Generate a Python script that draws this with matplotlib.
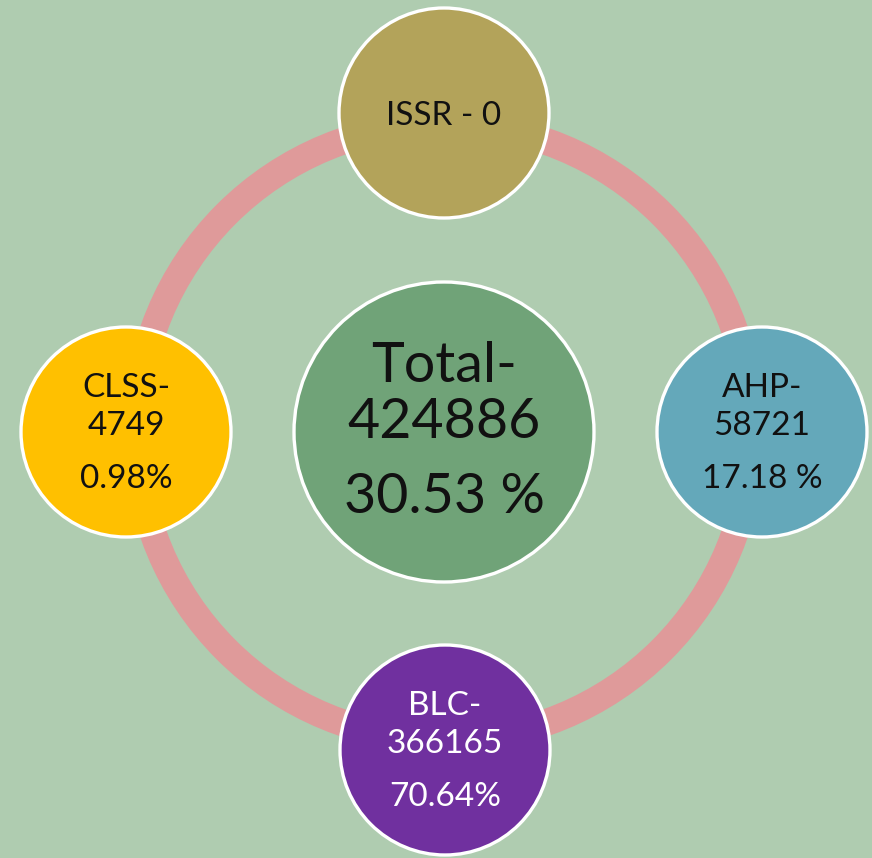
import matplotlib
matplotlib.use("Agg")
import matplotlib.pyplot as plt
from matplotlib.patches import Circle

# ---- data ----
names = ["ISSR", "AHP", "BLC", "CLSS"]
counts = [0, 58721, 366165, 4749]
percents = ["", "17.18 %", "70.64%", "0.98%"]
total_name = "Total"
total_count = 424886
total_percent = "30.53 %"

# ---- styles / positions ----
bg = "#AFCCB0"
ring_color = "#DF9A9A"
node_colors = ["#B3A35A", "#64A8BA", "#70309F", "#FFC000"]
text_colors = ["#111111", "#111111", "#FFFFFF", "#111111"]
center_color = "#70A378"
cx, cy = 444, 432
ring_r = 308
node_pos = [(444, 113), (762, 432), (445, 750), (126, 432)]
node_r = 105
center_r = 150
FONT = ["Lato", "DejaVu Sans"]
SMALL = 24
BIG = 40

fig = plt.figure(figsize=(8.72, 8.58), dpi=100)
fig.patch.set_facecolor(bg)
ax = fig.add_axes([0, 0, 1, 1])
ax.set_xlim(0, 872)
ax.set_ylim(858, 0)
ax.axis("off")
ax.set_facecolor(bg)

ax.add_patch(Circle((cx, cy), ring_r, fill=False, edgecolor=ring_color,
                    linewidth=27 * 0.72, zorder=1))

for i, (name, cnt, pct) in enumerate(zip(names, counts, percents)):
    x, y = node_pos[i]
    ax.add_patch(Circle((x, y), node_r, facecolor=node_colors[i],
                        edgecolor="white", linewidth=2.4, zorder=2))
    tc = text_colors[i]
    if pct == "":
        ax.text(x, y + 12, f"{name} - {cnt}", ha="center", va="baseline",
                fontsize=SMALL, color=tc, family=FONT, zorder=3)
    else:
        ax.text(x, y - 35, f"{name}-", ha="center", va="baseline",
                fontsize=SMALL, color=tc, family=FONT, zorder=3)
        ax.text(x, y + 3, f"{cnt}", ha="center", va="baseline",
                fontsize=SMALL, color=tc, family=FONT, zorder=3)
        ax.text(x, y + 56, pct, ha="center", va="baseline",
                fontsize=SMALL, color=tc, family=FONT, zorder=3)

ax.add_patch(Circle((cx, cy), center_r, facecolor=center_color,
                    edgecolor="white", linewidth=2.4, zorder=2))
ax.text(cx, 382, f"{total_name}-", ha="center", va="baseline",
        fontsize=BIG, color="#111111", family=FONT, zorder=3)
ax.text(cx, 438, f"{total_count}", ha="center", va="baseline",
        fontsize=BIG, color="#111111", family=FONT, zorder=3)
ax.text(cx, 513, total_percent, ha="center", va="baseline",
        fontsize=BIG, color="#111111", family=FONT, zorder=3)

fig.savefig("out.png", dpi=100, facecolor=bg)
